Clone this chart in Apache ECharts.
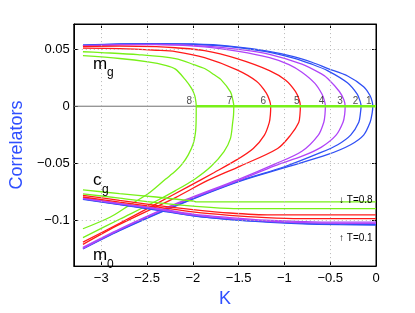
<!DOCTYPE html>
<html><head><meta charset="utf-8">
<script src="https://cdn.jsdelivr.net/npm/echarts@6/dist/echarts.min.js"></script>
<style>html,body{margin:0;padding:0;background:#fff}#c{width:415px;height:313px}</style>
</head><body><div id="c"></div>
<script>
// ---------- data ----------
const xTicks = [-3, -2.5, -2, -1.5, -1, -0.5, 0];
const yTicks = [0.05, 0, -0.05, -0.1];
const curveNames = ['1', '2', '3', '4', '5', '6', '7', '8'];
const labelK = [-0.08, -0.223, -0.394, -0.596, -0.865, -1.23, -1.6, -2.04];

// m_g upper branches (K, value)
const upper1 = [[-3.2,0.0535],[-2.8,0.0545],[-2.4,0.0548],[-2.0,0.0545],[-1.6,0.0527],[-1.2,0.0485],[-0.9,0.0435],[-0.7,0.0385],[-0.525,0.033],[-0.31,0.0265],[-0.135,0.0171],[-0.064,0.0092],[-0.042,0.004],[-0.035,0]];
const upper2 = [[-3.2,0.0535],[-2.8,0.0543],[-2.4,0.0546],[-2.0,0.0542],[-1.6,0.0522],[-1.2,0.0478],[-0.9,0.0422],[-0.7,0.0368],[-0.525,0.031],[-0.312,0.0205],[-0.205,0.0105],[-0.172,0.004],[-0.163,0]];
const upper3 = [[-3.2,0.053],[-2.8,0.054],[-2.4,0.0542],[-1.872,0.0527],[-1.5,0.0498],[-1.163,0.0455],[-0.809,0.0369],[-0.6,0.0285],[-0.525,0.0241],[-0.40,0.0129],[-0.35,0.0055],[-0.337,0]];
const upper4 = [[-3.2,0.0528],[-2.8,0.0537],[-2.4,0.054],[-1.872,0.052],[-1.5,0.048],[-1.163,0.0425],[-0.95,0.0365],[-0.809,0.0298],[-0.667,0.020],[-0.589,0.0105],[-0.562,0.0045],[-0.553,0]];
const upper5 = [[-3.2,0.0523],[-2.8,0.0527],[-2.4,0.0522],[-2.19,0.0512],[-1.872,0.0487],[-1.518,0.0417],[-1.163,0.0312],[-0.986,0.0227],[-0.88,0.0129],[-0.838,0.0055],[-0.826,0]];
const upper6 = [[-3.2,0.0509],[-2.8,0.0505],[-2.4,0.049],[-2.19,0.0478],[-1.872,0.0425],[-1.518,0.0318],[-1.305,0.0218],[-1.199,0.0117],[-1.162,0.005],[-1.15,0]];
const upper7 = [[-3.2,0.0477],[-3.0,0.047],[-2.6,0.0452],[-2.19,0.0417],[-1.98,0.0362],[-1.872,0.033],[-1.766,0.0275],[-1.695,0.0235],[-1.589,0.0125],[-1.562,0.005],[-1.553,0]];
const upper8 = [[-3.2,0.0443],[-2.8,0.0418],[-2.49,0.0388],[-2.3,0.0358],[-2.19,0.0325],[-2.085,0.0235],[-2.014,0.0156],[-1.98,0.0095],[-1.967,0.004],[-1.963,0]];

// lower branches (m_0), from the tip back to K = -3.2
const lower1 = [[-0.035,0],[-0.042,-0.006],[-0.064,-0.014],[-0.135,-0.0253],[-0.277,-0.0337],[-0.525,-0.0422],[-0.986,-0.0535],[-1.5,-0.066],[-2.19,-0.0875],[-2.8,-0.109],[-3.2,-0.125]];
const lower2 = [[-0.163,0],[-0.17,-0.006],[-0.188,-0.014],[-0.277,-0.0253],[-0.418,-0.0337],[-0.6,-0.0405],[-1.0,-0.053],[-1.5,-0.0655],[-2.19,-0.087],[-2.8,-0.1085],[-3.2,-0.1245]];
const lower3 = [[-0.337,0],[-0.342,-0.007],[-0.36,-0.014],[-0.436,-0.0253],[-0.6,-0.036],[-0.8,-0.0435],[-1.1,-0.052],[-1.5,-0.065],[-2.19,-0.0862],[-2.8,-0.108],[-3.2,-0.1245]];
const lower4 = [[-0.553,0],[-0.557,-0.007],[-0.57,-0.014],[-0.63,-0.0253],[-0.809,-0.0394],[-1.1,-0.0505],[-1.5,-0.064],[-2.19,-0.0855],[-2.8,-0.1075],[-3.2,-0.1235]];
const lower5 = [[-0.826,0],[-0.83,-0.007],[-0.844,-0.0142],[-0.933,-0.0253],[-1.074,-0.037],[-1.482,-0.0524],[-1.837,-0.065],[-2.19,-0.080],[-2.8,-0.1035],[-3.2,-0.121]];
const lower6 = [[-1.15,0],[-1.153,-0.007],[-1.165,-0.0142],[-1.22,-0.0256],[-1.34,-0.037],[-1.518,-0.0468],[-1.766,-0.058],[-2.05,-0.0704],[-2.4,-0.0855],[-2.8,-0.1025],[-3.2,-0.119]];
const lower7 = [[-1.553,0],[-1.556,-0.008],[-1.565,-0.0142],[-1.59,-0.0284],[-1.66,-0.0398],[-1.80,-0.0526],[-1.98,-0.0639],[-2.19,-0.0739],[-2.4,-0.083],[-2.8,-0.099],[-3.2,-0.115]];
const lower8 = [[-1.963,0],[-1.964,-0.012],[-1.97,-0.022],[-1.995,-0.0327],[-2.05,-0.0426],[-2.12,-0.051],[-2.19,-0.0568],[-2.3,-0.064],[-2.49,-0.0767],[-2.7,-0.087],[-2.9,-0.097],[-3.2,-0.1073]];

// c_g curves
const cg1 = [[-3.2,-0.0815],[-2.8,-0.0862],[-2.4,-0.091],[-2.0,-0.096],[-1.6,-0.0993],[-1.2,-0.1015],[-0.8,-0.103],[-0.4,-0.1037],[-0.035,-0.104],[0,-0.104]];
const cg2 = [[-3.2,-0.0812],[-2.8,-0.086],[-2.4,-0.0905],[-2.0,-0.0957],[-1.6,-0.099],[-1.2,-0.101],[-0.8,-0.1025],[-0.4,-0.1032],[-0.163,-0.1035],[0,-0.1035]];
const cg3 = [[-3.2,-0.0808],[-2.8,-0.0855],[-2.4,-0.090],[-2.0,-0.0952],[-1.6,-0.0985],[-1.2,-0.1005],[-0.8,-0.102],[-0.337,-0.1025],[0,-0.1025]];
const cg4 = [[-3.2,-0.0803],[-2.8,-0.085],[-2.4,-0.0893],[-2.0,-0.0945],[-1.6,-0.0975],[-1.2,-0.0998],[-0.8,-0.101],[-0.553,-0.1015],[0,-0.1015]];
const cg5 = [[-3.2,-0.0795],[-2.8,-0.084],[-2.4,-0.0882],[-2.0,-0.0925],[-1.6,-0.0955],[-1.2,-0.0975],[-0.826,-0.0984],[0,-0.0984]];
const cg6 = [[-3.2,-0.078],[-2.8,-0.0825],[-2.4,-0.0868],[-2.0,-0.0905],[-1.6,-0.0935],[-1.15,-0.0952],[0,-0.0952]];
const cg7 = [[-3.2,-0.0767],[-2.8,-0.0805],[-2.4,-0.0845],[-2.0,-0.0875],[-1.553,-0.0896],[0,-0.0896]];
const cg8 = [[-3.2,-0.0733],[-2.8,-0.0765],[-2.4,-0.0795],[-2.0,-0.083],[-1.963,-0.0838],[0,-0.0838]];

const zeroLine = [[-3.3,0],[-1.963,0]];
const paraBranch = [[-1.963,0],[-1,0],[0,0]];

// ---------- chart ----------
const uppers = [upper1,upper2,upper3,upper4,upper5,upper6,upper7,upper8];
const lowers = [lower1,lower2,lower3,lower4,lower5,lower6,lower7,lower8];
const cgs = [cg1,cg2,cg3,cg4,cg5,cg6,cg7,cg8];
const colors = ['#3050f5','#3050f5','#b044f8','#b044f8','#ff1a1a','#ff1a1a','#78f018','#78f018'];
const FONT = '"Liberation Sans", Arial, sans-serif';
const fmt = v => (v < 0 ? '\u2212' : '') + Math.abs(v);

const series = [];
series.push({
  type: 'line', data: zeroLine, symbol: 'none', silent: true, z: 1,
  lineStyle: { color: '#707070', width: 1 },
  markLine: {
    silent: true, symbol: 'none', label: { show: false },
    lineStyle: { color: '#b8b8b8', width: 1, type: [1, 3] },
    data: xTicks.filter(v => v !== 0).map(v => ({ xAxis: v })).concat(yTicks.filter(v => v !== 0).map(v => ({ yAxis: v })))
  }
});
for (let i = 0; i < 8; i++) {
  series.push({
    type: 'line', data: uppers[i].concat(lowers[i].slice(1)), symbol: 'none', smooth: 0.3, z: 3,
    lineStyle: { color: colors[i], width: 1.3 }
  });
}
for (let i = 0; i < 8; i++) {
  series.push({
    type: 'line', data: cgs[i], symbol: 'none', smooth: 0.3, z: 3,
    lineStyle: { color: colors[i], width: 1.3 }
  });
}
series.push({
  type: 'scatter', symbolSize: 0, z: 7,
  data: labelK.map((k, i) => ({ value: [k, 0.0045], name: curveNames[i] })),
  label: { show: true, position: 'inside', formatter: p => p.name, fontSize: 10, color: '#222', fontFamily: FONT }
});
series.push({
  type: 'line', data: paraBranch, symbol: 'none', z: 8,
  lineStyle: { color: '#78f018', width: 2.4 }
});

const axisCommon = {
  type: 'value',
  axisLine: { show: true, onZero: false, lineStyle: { color: '#000', width: 1 } },
  splitLine: { show: false },
  axisTick: { show: true, inside: true, length: 4, lineStyle: { color: '#000' } },
};

const option = {
  animation: false,
  backgroundColor: '#fff',
  grid: { left: 65, top: 24, width: 311, height: 250, show: true, borderColor: '#000', borderWidth: 1, backgroundColor: 'transparent' },
  xAxis: [
    Object.assign({}, axisCommon, {
      min: -3.3, max: 0, position: 'bottom',
      axisTick: Object.assign({}, axisCommon.axisTick, { customValues: xTicks }),
      axisLabel: { customValues: xTicks, formatter: fmt, fontSize: 13, color: '#000', margin: 6, fontFamily: FONT },
      name: 'K', nameLocation: 'middle', nameGap: 19,
      nameTextStyle: { color: '#2f4fff', fontSize: 18, fontFamily: FONT }
    }),
    Object.assign({}, axisCommon, {
      min: -3.3, max: 0, position: 'top',
      axisTick: Object.assign({}, axisCommon.axisTick, { customValues: xTicks }),
      axisLabel: { show: false }
    })
  ],
  yAxis: [
    Object.assign({}, axisCommon, {
      min: -0.14, max: 0.072, position: 'left',
      axisTick: Object.assign({}, axisCommon.axisTick, { customValues: yTicks }),
      axisLabel: { customValues: yTicks, formatter: fmt, fontSize: 13, color: '#000', margin: 4, fontFamily: FONT },
      name: 'Correlators', nameLocation: 'middle', nameGap: 46,
      nameTextStyle: { color: '#2f4fff', fontSize: 18, fontFamily: FONT }
    }),
    Object.assign({}, axisCommon, {
      min: -0.14, max: 0.072, position: 'right',
      axisTick: Object.assign({}, axisCommon.axisTick, { customValues: yTicks }),
      axisLabel: { show: false }
    })
  ],
  series: series,
  graphic: [
    { type: 'text', left: 93, top: 56, style: { text: 'm', fontSize: 17, fill: '#000', fontFamily: FONT }, z: 10 },
    { type: 'text', left: 107, top: 67, style: { text: 'g', fontSize: 12, fill: '#000', fontFamily: FONT }, z: 10 },
    { type: 'text', left: 93, top: 172, style: { text: 'c', fontSize: 17, fill: '#000', fontFamily: FONT }, z: 10 },
    { type: 'text', left: 102, top: 184, style: { text: 'g', fontSize: 12, fill: '#000', fontFamily: FONT }, z: 10 },
    { type: 'text', left: 93, top: 247, style: { text: 'm', fontSize: 17, fill: '#000', fontFamily: FONT }, z: 10 },
    { type: 'text', left: 107, top: 259, style: { text: '0', fontSize: 12, fill: '#000', fontFamily: FONT }, z: 10 },
    { type: 'text', left: 339, top: 195, style: { text: '\u2193 T=0.8', fontSize: 10, fill: '#000', fontFamily: FONT }, z: 10 },
    { type: 'text', left: 339, top: 233, style: { text: '\u2191 T=0.1', fontSize: 10, fill: '#000', fontFamily: FONT }, z: 10 }
  ]
};
const chart = echarts.init(document.getElementById('c'), null, { renderer: 'canvas' });
chart.setOption(option);
</script></body></html>
